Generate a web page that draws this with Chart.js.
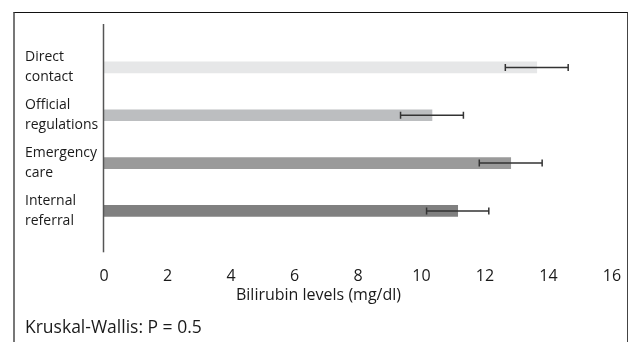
<!DOCTYPE html>
<html lang="en">
<head>
    <meta charset="UTF-8">
    <title>Bilirubin levels</title>
    <script src="https://cdn.jsdelivr.net/npm/chart.js"></script>
    <style>
        body {
            margin: 0;
            background: #fff;
            overflow: hidden;
        }
        #frame {
            position: absolute;
            left: 13px;
            top: 12px;
            width: 612px;
            height: 400px;
            border-top: 1px solid #111;
            border-left: 2px solid #777;
            border-right: 1px solid #444;
        }
        #wrap {
            position: absolute;
            left: 0;
            top: 0;
            width: 633px;
            height: 342px;
        }
    </style>
</head>
<body>
    <div id="frame"></div>
    <div id="wrap">
        <canvas id="chartCanvas" width="633" height="342"></canvas>
    </div>

    <script>
        // categories (two-line labels) and values
        const categories = [
            ['Direct', 'contact'],
            ['Official', 'regulations'],
            ['Emergency', 'care'],
            ['Internal', 'referral']
        ];
        const meanLevels = [13.63, 10.33, 12.81, 11.14];
        const errorSizes = [0.99, 0.99, 0.99, 0.98];
        const barColors = ['#e6e7e8', '#bcbec0', '#9a9a9a', '#808080'];
        const xTicks = [0, 2, 4, 6, 8, 10, 12, 14, 16];

        Chart.defaults.font.family = "'Open Sans', 'Noto Sans', sans-serif";
        Chart.defaults.color = '#1a1a1a';

        // error bars + the long vertical axis line
        const errorBarsPlugin = {
            id: 'errorBars',
            afterDatasetsDraw(chart) {
                const ctx = chart.ctx;
                const xs = chart.scales.x;
                const ys = chart.scales.y;
                ctx.save();
                ctx.strokeStyle = '#333';
                ctx.lineWidth = 1.5;
                meanLevels.forEach((v, i) => {
                    const y = ys.getPixelForValue(i);
                    const x1 = xs.getPixelForValue(v - errorSizes[i]);
                    const x2 = xs.getPixelForValue(v + errorSizes[i]);
                    ctx.beginPath();
                    ctx.moveTo(x1, y);
                    ctx.lineTo(x2, y);
                    ctx.moveTo(x1, y - 3.5);
                    ctx.lineTo(x1, y + 3.5);
                    ctx.moveTo(x2, y - 3.5);
                    ctx.lineTo(x2, y + 3.5);
                    ctx.stroke();
                });
                // y axis line runs a bit past the category area
                const area = chart.chartArea;
                ctx.strokeStyle = '#555';
                ctx.lineWidth = 1.5;
                ctx.beginPath();
                ctx.moveTo(area.left - 0.5, area.top - 19.5);
                ctx.lineTo(area.left - 0.5, area.bottom + 17.5);
                ctx.stroke();
                ctx.restore();
            }
        };

        new Chart(document.getElementById('chartCanvas'), {
            type: 'bar',
            data: {
                labels: categories,
                datasets: [{
                    data: meanLevels,
                    backgroundColor: barColors,
                    borderWidth: 0,
                    barThickness: 11
                }]
            },
            options: {
                indexAxis: 'y',
                responsive: false,
                animation: false,
                layout: {
                    padding: { left: 25, right: 21, top: 43.5, bottom: 0 }
                },
                plugins: {
                    legend: { display: false },
                    tooltip: { enabled: false },
                    subtitle: {
                        display: true,
                        text: 'Bilirubin levels (mg/dl)',
                        position: 'bottom',
                        color: '#1a1a1a',
                        font: { size: 16, weight: 'normal' },
                        padding: { top: 0, bottom: 13 }
                    },
                    title: {
                        display: true,
                        text: 'Kruskal-Wallis: P = 0.5',
                        position: 'bottom',
                        align: 'start',
                        color: '#1a1a1a',
                        font: { size: 17.5, weight: 'normal' },
                        padding: { top: 0, bottom: 3 }
                    }
                },
                scales: {
                    x: {
                        min: 0,
                        max: 16,
                        afterBuildTicks: (scale) => {
                            scale.ticks = xTicks.map(v => ({ value: v }));
                        },
                        afterFit: (scale) => { scale.height = 51; },
                        // invisible tick marks push the labels down
                        grid: { display: false, drawTicks: true, tickLength: 31 },
                        border: { display: false },
                        ticks: {
                            padding: 1,
                            font: { size: 16 },
                            maxRotation: 0
                        }
                    },
                    y: {
                        afterFit: (scale) => { scale.width = 79; },
                        grid: { display: false, drawTicks: false },
                        border: { display: false },
                        ticks: {
                            crossAlign: 'far',
                            padding: 4,
                            font: { size: 14, lineHeight: 1.43 }
                        }
                    }
                }
            },
            plugins: [errorBarsPlugin]
        });
    </script>
</body>
</html>
